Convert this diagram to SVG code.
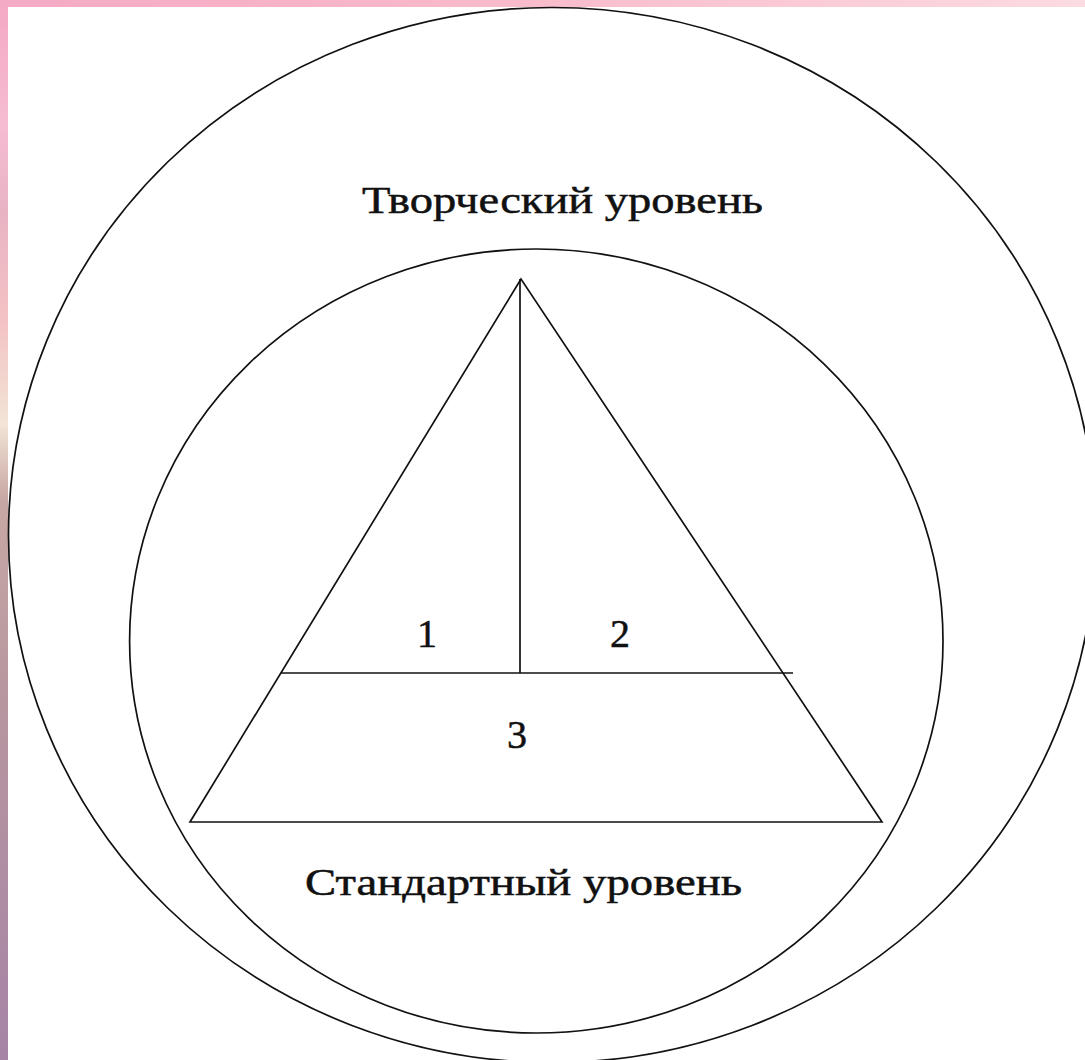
<svg xmlns="http://www.w3.org/2000/svg" width="1085" height="1060" viewBox="0 0 1085 1060">
  <defs>
    <linearGradient id="topStrip" x1="0" y1="0" x2="1" y2="0">
      <stop offset="0" stop-color="#f4a9c4"/>
      <stop offset="0.5" stop-color="#f9bccb"/>
      <stop offset="1" stop-color="#fcdbe2"/>
    </linearGradient>
    <linearGradient id="leftStrip" x1="0" y1="0" x2="0" y2="1">
      <stop offset="0" stop-color="#f4a9c4"/>
      <stop offset="0.12" stop-color="#f6bcd2"/>
      <stop offset="0.2" stop-color="#e8b4c4"/>
      <stop offset="0.3" stop-color="#f3c2c4"/>
      <stop offset="0.4" stop-color="#f2e4d6"/>
      <stop offset="0.47" stop-color="#c8a8a4"/>
      <stop offset="0.65" stop-color="#b897a0"/>
      <stop offset="1" stop-color="#a684a6"/>
    </linearGradient>
    <style>
      .ln { fill: none; stroke: #111; stroke-width: 1.7; }
      .lbl { font-family: "Liberation Serif", "Times New Roman", serif; font-size: 38px; fill: #111; stroke: #111; stroke-width: 0.5; }
      .num { font-family: "Liberation Serif", "Times New Roman", serif; font-size: 40px; fill: #111; stroke: #111; stroke-width: 0.5; text-anchor: middle; }
    </style>
  </defs>
  <rect x="0" y="0" width="1085" height="1060" fill="#ffffff"/>
  <rect x="0" y="0" width="1085" height="7" fill="url(#topStrip)"/>
  <rect x="0" y="0" width="8" height="1060" fill="url(#leftStrip)"/>

  <g id="outer-circle">
    <ellipse class="ln" cx="552" cy="535" rx="543.5" ry="527.5"/>
    <text class="lbl" x="362" y="213" textLength="401" lengthAdjust="spacingAndGlyphs">Творческий уровень</text>
  </g>
  <g id="inner-circle">
    <ellipse class="ln" cx="536.3" cy="641" rx="406.7" ry="392"/>
    <text class="lbl" x="305" y="895" textLength="437" lengthAdjust="spacingAndGlyphs">Стандартный уровень</text>
  </g>
  <g id="triangle">
    <polygon class="ln" points="521,279 190,822 882,822"/>
  </g>
  <g id="connectors">
    <line class="ln" x1="520" y1="279" x2="520" y2="673"/>
    <line class="ln" x1="281" y1="673" x2="793" y2="673"/>
  </g>
  <g id="region-1"><text class="num" x="427" y="647">1</text></g>
  <g id="region-2"><text class="num" x="620" y="647">2</text></g>
  <g id="region-3"><text class="num" x="517" y="748">3</text></g>
</svg>
